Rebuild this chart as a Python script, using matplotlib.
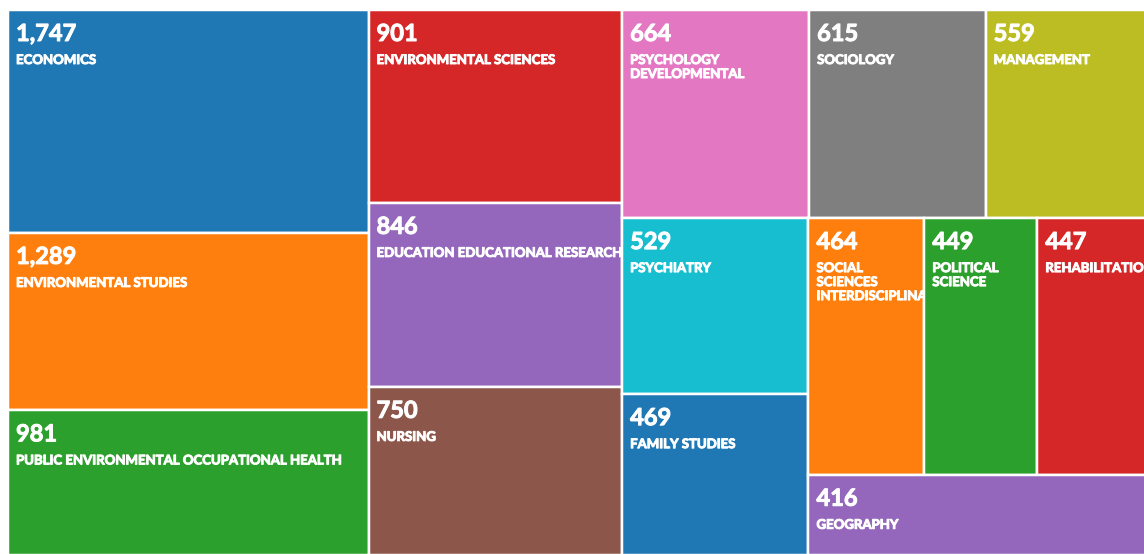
import matplotlib.pyplot as plt
import matplotlib.patheffects as pe
from matplotlib.patches import Rectangle

# web of science categories, record counts
categories = [
    "ECONOMICS",
    "ENVIRONMENTAL STUDIES",
    "PUBLIC ENVIRONMENTAL OCCUPATIONAL HEALTH",
    "ENVIRONMENTAL SCIENCES",
    "EDUCATION EDUCATIONAL RESEARCH",
    "NURSING",
    "PSYCHOLOGY\nDEVELOPMENTAL",
    "SOCIOLOGY",
    "MANAGEMENT",
    "PSYCHIATRY",
    "FAMILY STUDIES",
    "SOCIAL\nSCIENCES\nINTERDISCIPLINARY",
    "POLITICAL\nSCIENCE",
    "REHABILITATION",
    "GEOGRAPHY",
]
counts = [1747, 1289, 981, 901, 846, 750, 664, 615, 559, 529, 469, 464, 449, 447, 416]

palette = plt.cm.tab10.colors
size_power = 0.75  # tiles in the reference are not strictly area-proportional

# nested slices: "h" = left to right, "v" = top to bottom
tree = ("h", [
    ("v", [0, 1, 2]),
    ("v", [3, 4, 5]),
    ("v", [
        ("h", [6, 7, 8]),
        ("h", [
            ("v", [9, 10]),
            ("v", [("h", [11, 12, 13]), 14]),
        ]),
    ]),
])


def weight(node):
    if isinstance(node, int):
        return counts[node] ** size_power
    return sum(weight(k) for k in node[1])


def place(node, x, y, w, h, out):
    if isinstance(node, int):
        out[node] = (x, y, w, h)
        return
    orient, kids = node
    total = weight(node)
    for k in kids:
        f = weight(k) / total
        if orient == "h":
            place(k, x, y, w * f, h, out)
            x += w * f
        else:
            place(k, x, y, w, h * f, out)
            y += h * f


rects = {}
place(tree, 0, 0, 1, 1, rects)

fig = plt.figure(figsize=(11.44, 5.54), dpi=100)
ax = fig.add_axes([8 / 1144, -1 / 554, 1142 / 1144, 545 / 554])
ax.set_xlim(0, 1)
ax.set_ylim(1, 0)
ax.axis("off")

px = 0.72  # points per pixel at 100 dpi
thick = [pe.withStroke(linewidth=0.7, foreground="white")]

for i, (name, val) in enumerate(zip(categories, counts)):
    x, y, w, h = rects[i]
    r = Rectangle((x, y), w, h, facecolor=palette[i % 10], edgecolor="white",
                  linewidth=2.5 * px)
    ax.add_patch(r)
    t1 = ax.annotate(f"{val:,}", xy=(x, y), xytext=(8 * px, -12 * px),
                     textcoords="offset points", ha="left", va="top",
                     fontsize=17, fontweight="bold", color="white",
                     family="Lato", path_effects=thick)
    t2 = ax.annotate(name, xy=(x, y), xytext=(8 * px, -44 * px),
                     textcoords="offset points", ha="left", va="top",
                     fontsize=9.5, fontweight="bold", color="white",
                     family="Lato", linespacing=1.2, path_effects=thick)
    t1.set_clip_path(r)
    t2.set_clip_path(r)

fig.savefig("out.png", dpi=100)
